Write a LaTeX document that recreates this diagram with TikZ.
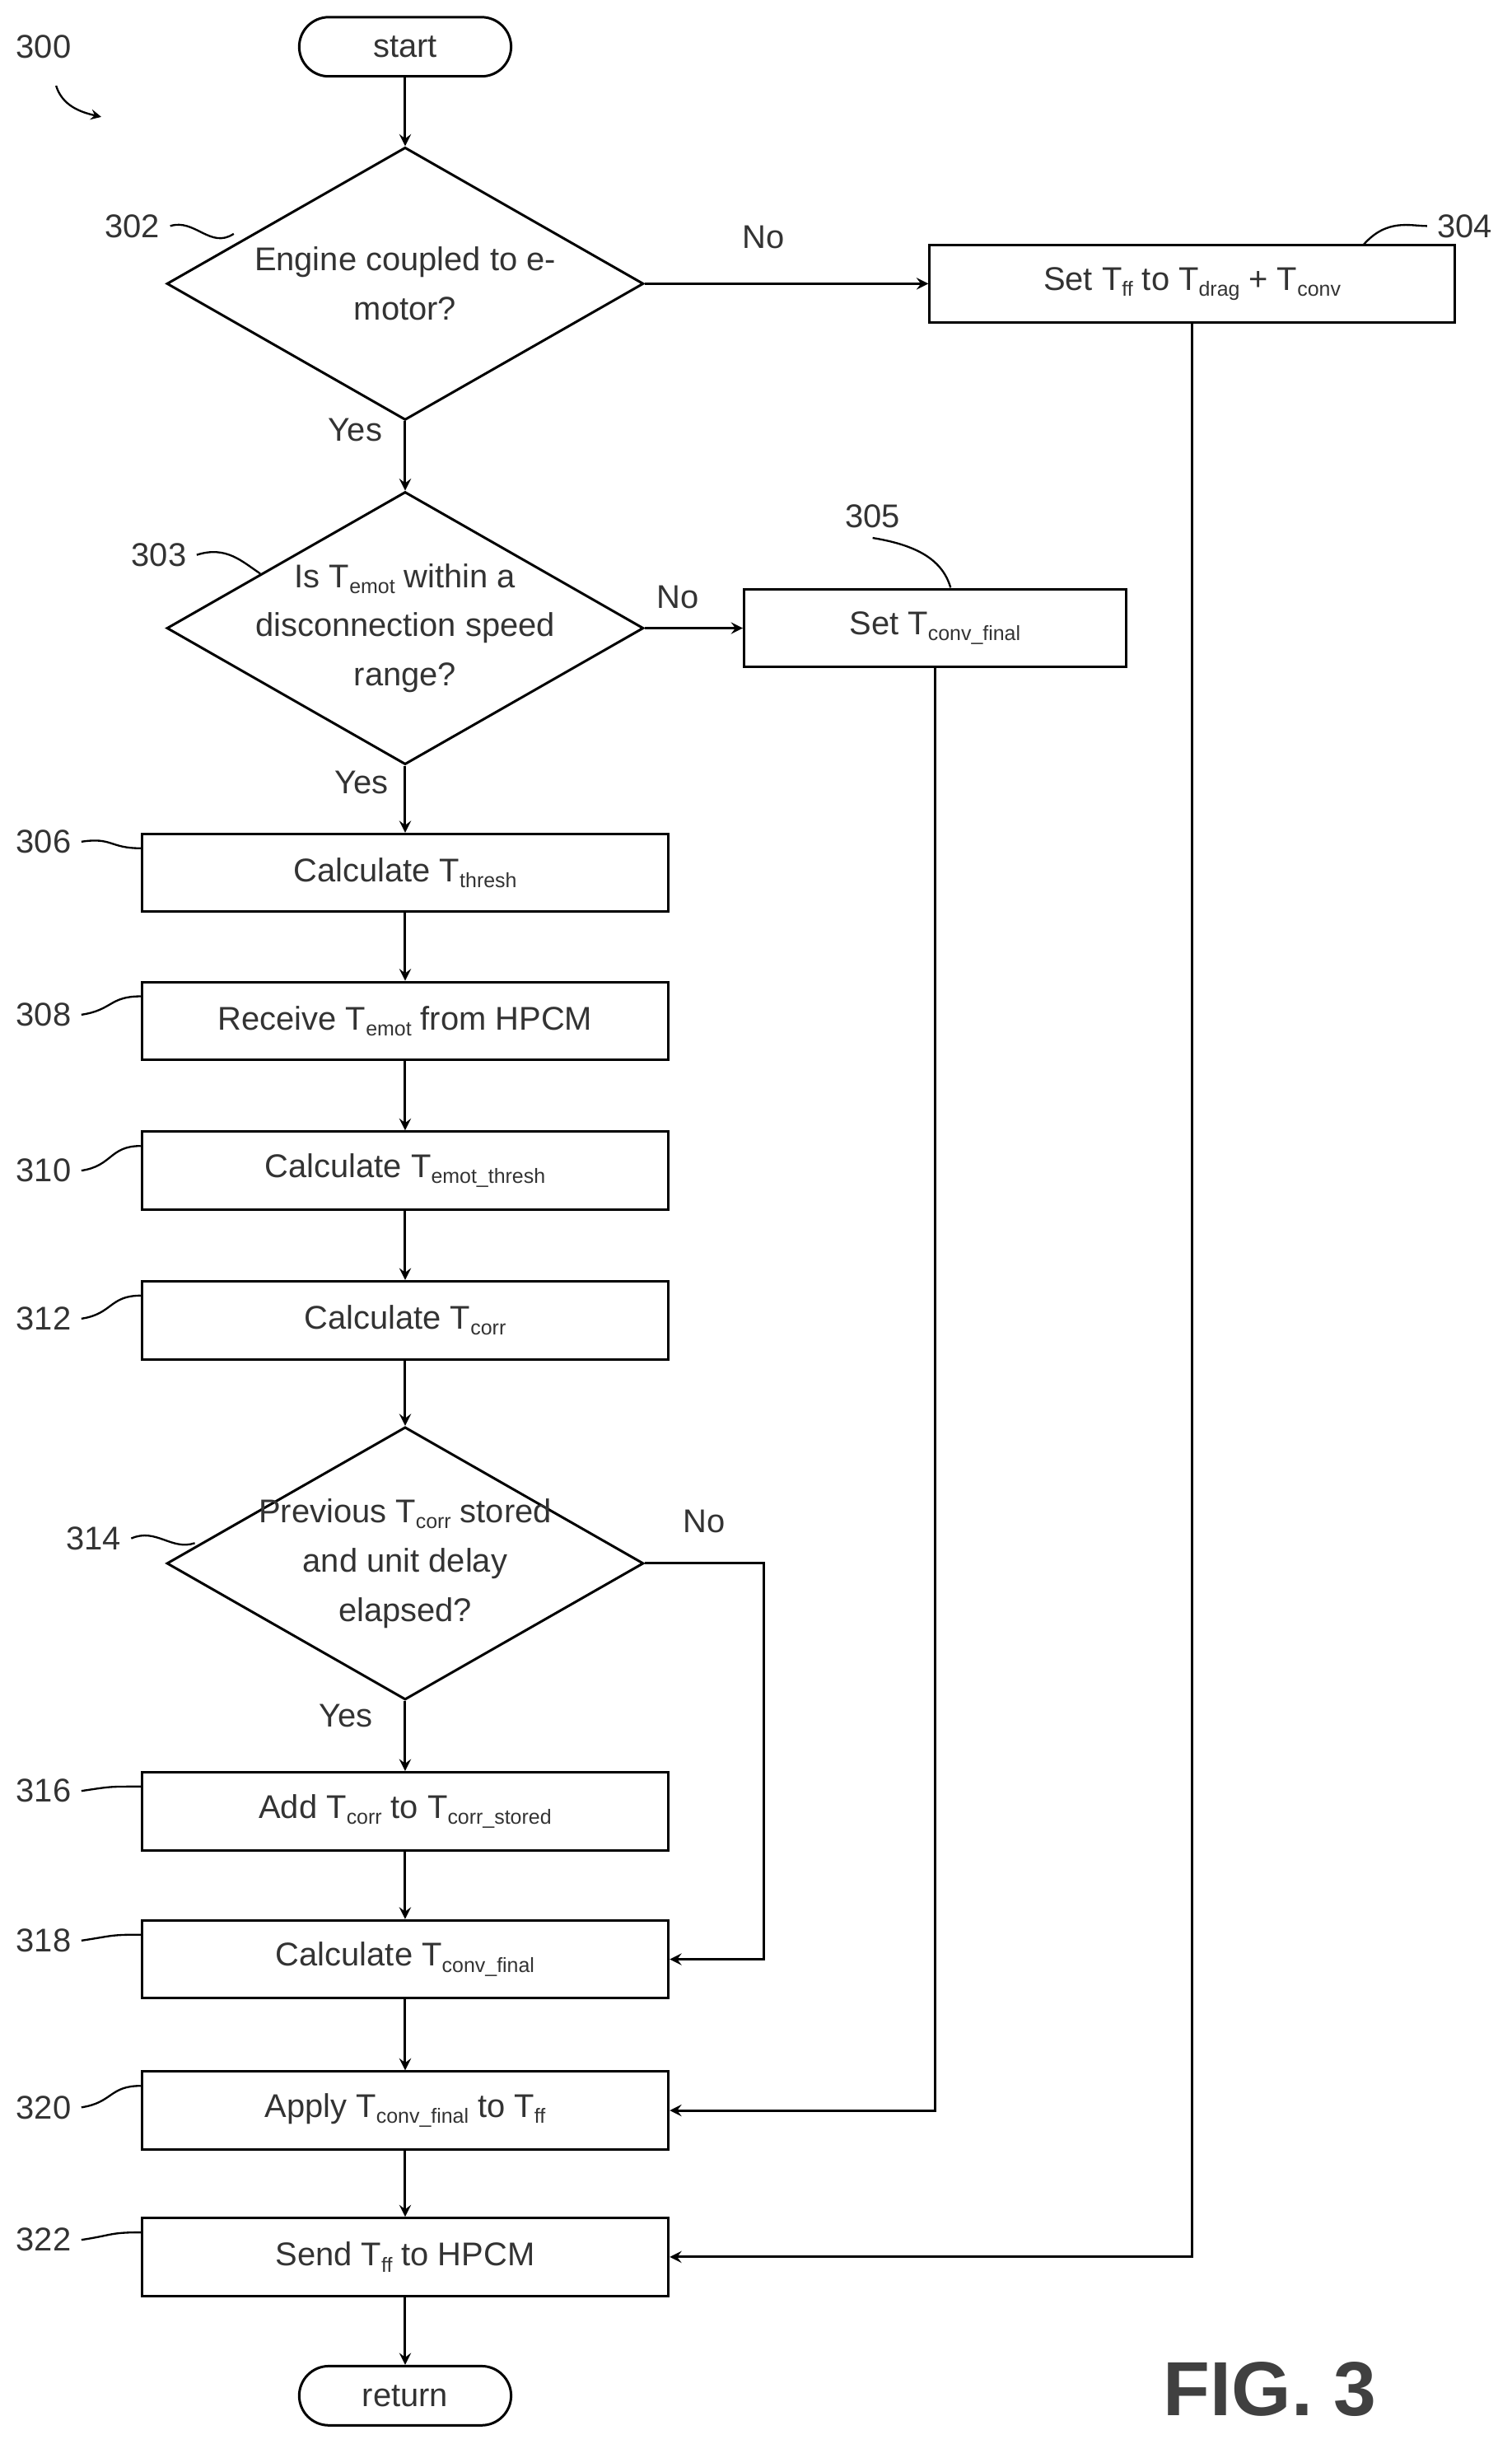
\documentclass[tikz,border=0pt]{standalone}
\usepackage{fontspec}
\setmainfont{Liberation Sans}
\usetikzlibrary{shapes.geometric,positioning}
\newcommand{\Ts}[1]{T\raisebox{-0.35ex}{\fontsize{7.5}{8}\selectfont #1}}
\begin{document}
\begin{tikzpicture}[x=0.02cm,y=-0.02cm,line width=0.9pt,>=stealth,
  every node/.style={font=\fontsize{12}{14.5}\selectfont, text=black!80},
  box/.style={draw, minimum width=6.76cm, minimum height=1cm, inner sep=0pt},
  term/.style={draw, rounded corners=0.38cm, minimum width=2.72cm, minimum height=0.76cm},
  test/.style={draw, diamond, aspect=1.74, minimum width=6.12cm, minimum height=3.5cm, inner sep=-8pt, align=center, font=\fontsize{12}{18}\selectfont},
  lbl/.style={font=\fontsize{12}{14}\selectfont},
  lead/.style={line width=0.7pt, ->, shorten >=0pt}]
\useasboundingbox (0,0) rectangle (970,1568);
  % flow nodes
  \node[term] (start) at (260,30) {start};
  \node[test] (302) at (260,182) {Engine coupled to e-\\motor?};
  \node[box, minimum width=6.74cm] (304) at (765,182) {Set \Ts{ff} to \Ts{drag} + \Ts{conv}};
  \node[test] (303) at (260,403) {Is \Ts{emot} within a\\disconnection speed\\range?};
  \node[box, minimum width=4.9cm] (305) at (600,403) {Set \Ts{conv\_final}};
  \node[box] (306) at (260,560) {Calculate \Ts{thresh}};
  \node[box] (308) at (260,655) {Receive \Ts{emot} from HPCM};
  \node[box] (310) at (260,751) {Calculate \Ts{emot\_thresh}};
  \node[box] (312) at (260,847) {Calculate \Ts{corr}};
  \node[test] (314) at (260,1003) {Previous \Ts{corr} stored\\and unit delay\\elapsed?};
  \node[box] (316) at (260,1162) {Add \Ts{corr} to \Ts{corr\_stored}};
  \node[box] (318) at (260,1257) {Calculate \Ts{conv\_final}};
  \node[box] (320) at (260,1354) {Apply \Ts{conv\_final} to \Ts{ff}};
  \node[box] (322) at (260,1448) {Send \Ts{ff} to HPCM};
  \node[term] (ret) at (260,1537) {return};
  \node[font=\bfseries\fontsize{28}{30}\selectfont, text=black!75] (fig) at (815,1533) {FIG. 3};

  % branch labels
  \node (no302) at (490,152) {No};
  \node (yes302) at (228,276) {Yes};
  \node (no303) at (435,383) {No};
  \node (yes303) at (232,502) {Yes};
  \node (no314) at (452,976) {No};
  \node (yes314) at (222,1101) {Yes};

  % connectors
  \draw[->] (start) -- (302);
  \draw[->] (302) -- (304);
  \draw[->] (302) -- (303);
  \draw[->] (303) -- (305);
  \draw[->] (303) -- (306);
  \draw[->] (306) -- (308);
  \draw[->] (308) -- (310);
  \draw[->] (310) -- (312);
  \draw[->] (312) -- (314);
  \draw[->] (314) -- (316);
  \draw[->] (316) -- (318);
  \draw[->] (318) -- (320);
  \draw[->] (320) -- (322);
  \draw[->] (322) -- (ret);
  \coordinate (c314) at (490,1003);
  \draw[->] (314.east) -- (c314) |- (318.east);
  \draw[->] (305.south) |- (320.east);
  \draw[->] (304.south) |- (322.east);

  % reference labels
  \node[lbl] (l300) at (28,30) {300};
  \draw[lead] (36,55) .. controls (40,68) and (52,72) .. (65,75);
  \node[lbl] (l302) at (85,145) {302};
  \draw[line width=0.7pt] (l302.east) .. controls (125,140) and (135,160) .. (150,150);
  \node[lbl] (l304) at (940,145) {304};
  \draw[line width=0.7pt] (l304.west) .. controls (905,145) and (890,140) .. (875,157);
  \node[lbl] (l303) at (102,356) {303};
  \draw[line width=0.7pt] (l303.east) .. controls (145,350) and (155,360) .. (167,368);
  \node[lbl] (l305) at (560,331) {305};
  \draw[line width=0.7pt] (l305.south) .. controls (590,350) and (605,360) .. (610,377);
  \foreach \n/\y in {306/540, 308/651, 310/751, 312/846, 316/1149, 318/1245, 320/1352, 322/1437}
    \node[lbl] (l\n) at (28,\y) {\n};
  \foreach \n in {306,308,310,312,316,318,320,322}
    \draw[line width=0.7pt] (l\n.east) .. controls +(20,-3) and +(-20,0) .. ([yshift=-0.2cm]\n.north west);
  \node[lbl] (l314) at (60,987) {314};
  \draw[line width=0.7pt] (l314.east) .. controls (100,980) and (110,995) .. (125,990);
\end{tikzpicture}
\end{document}
